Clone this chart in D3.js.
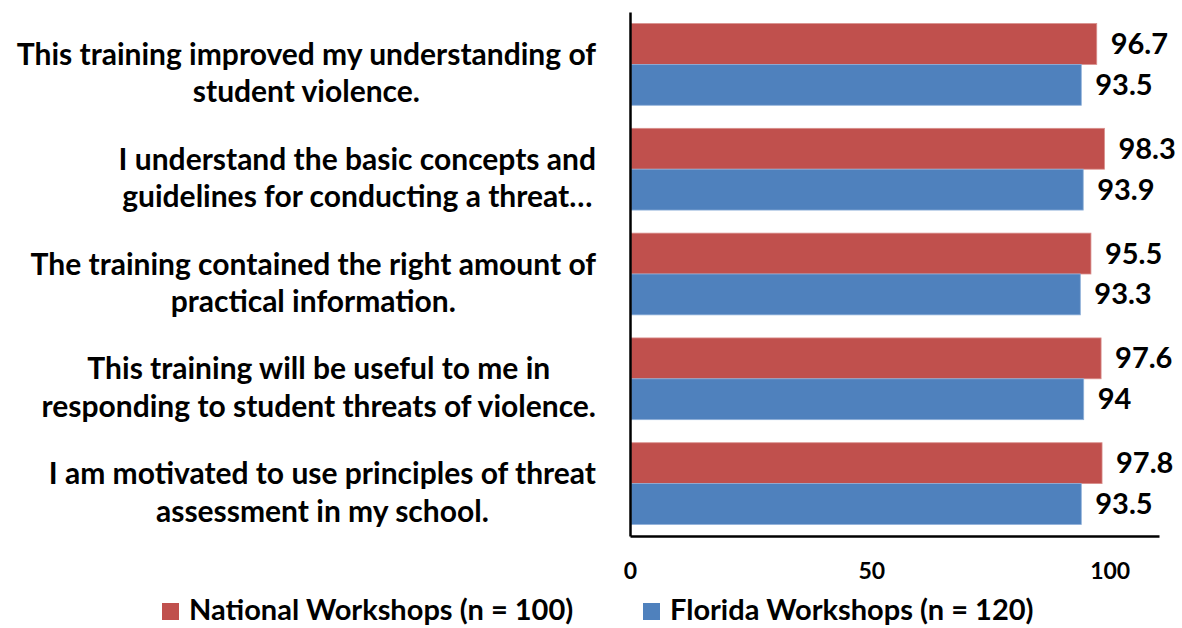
<!DOCTYPE html>
<html>
<head>
<meta charset="utf-8">
<script src="https://cdn.jsdelivr.net/npm/d3@7"></script>
<style>
  html, body { margin: 0; padding: 0; background: #ffffff; }
  svg { display: block; }
  text { font-family: Lato, "Open Sans", sans-serif; font-weight: 700; fill: #000; }
</style>
</head>
<body>
<svg id="chart" width="1182" height="628"></svg>
<script>
// ---- data ----
const categories = [
  "This training improved my understanding of student violence.",
  "I understand the basic concepts and guidelines for conducting a threat…",
  "The training contained the right amount of practical information.",
  "This training will be useful to me in responding to student threats of violence.",
  "I am motivated to use principles of threat assessment in my school."
];
const categoryLines = [
  ["This training improved my understanding of", "student violence."],
  ["I understand the basic concepts and", "guidelines for conducting a threat…"],
  ["The training contained the right amount of", "practical information."],
  ["This training will be useful to me in", "responding to student threats of violence."],
  ["I am motivated to use principles of threat", "assessment in my school."]
];
const seriesNames = ["National Workshops (n = 100)", "Florida Workshops (n = 120)"];
const nationalValues = [96.7, 98.3, 95.5, 97.6, 97.8];
const floridaValues  = [93.5, 93.9, 93.3, 94, 93.5];
const xTicks = [0, 50, 100];
const colors = ["#C0504D", "#4F81BD"];

// ---- layout ----
const svg = d3.select("#chart");
const plot = { left: 630, right: 1159, top: 12, bottom: 536 };

const x = d3.scaleLinear().domain([0, 109.6]).range([plot.left, plot.right]);
const y0 = d3.scaleBand().domain(categories).range([plot.top, plot.bottom]).paddingInner(0.22).paddingOuter(0.11);
const y1 = d3.scaleBand().domain(seriesNames).range([0, y0.bandwidth()]);

const seriesVals = [nationalValues, floridaValues];
const rows = [];
categories.forEach((c, i) => {
  seriesNames.forEach((s, j) => rows.push({ cat: c, ser: s, j, v: seriesVals[j][i] }));
});

// bars
svg.append("g").selectAll("rect").data(rows).join("rect")
  .attr("x", x(0) + 1)
  .attr("y", d => y0(d.cat) + y1(d.ser))
  .attr("width", d => x(d.v) - x(0) - 1)
  .attr("height", y1.bandwidth())
  .attr("fill", d => colors[d.j])
  .attr("stroke", d => d.j === 0 ? "#d98f8d" : "#8fb0d9")
  .attr("stroke-width", 0.8);

// value labels
svg.append("g").selectAll("text").data(rows).join("text")
  .attr("x", d => x(d.v) + 14)
  .attr("y", d => y0(d.cat) + y1(d.ser) + y1.bandwidth() / 2 + 10)
  .attr("font-size", 29)
  .text(d => d.v);

// axes
const xAxis = d3.axisBottom(x).tickValues(xTicks).tickSize(0).tickPadding(0);
const gx = svg.append("g").attr("transform", `translate(0,${plot.bottom})`).call(xAxis);
gx.select(".domain").attr("stroke", "#000").attr("stroke-width", 2.5);
gx.selectAll(".tick text").attr("font-size", 23).attr("font-family", "Lato, sans-serif")
  .attr("font-weight", 700).attr("dy", 0).attr("y", 43).attr("fill", "#000");
gx.selectAll(".tick").filter(d => d === 100).select("text").attr("dx", -3);

const yAxis = d3.axisLeft(y0).tickSize(0).tickFormat("");
const gy = svg.append("g").attr("transform", `translate(${plot.left},0)`).call(yAxis);
gy.select(".domain").attr("stroke", "#000").attr("stroke-width", 2.5);

// category labels (two-line, centred block right-aligned near axis)
const labelRight = 596;
const lg = svg.append("g");
categories.forEach((c, i) => {
  const lines = categoryLines[i];
  const g = lg.append("g");
  const texts = lines.map((ln, k) => g.append("text")
    .attr("font-size", 30)
    .attr("text-anchor", "middle")
    .attr("y", y0(c) + y0.bandwidth() / 2 + 0.5 + k * 37.5)
    .text(ln));
  const maxW = d3.max(texts, t => t.node().getComputedTextLength());
  texts.forEach(t => t.attr("x", labelRight - maxW / 2));
});

// legend
const legendX = [162, 643];
const lgd = svg.append("g");
seriesNames.forEach((s, j) => {
  lgd.append("rect").attr("x", legendX[j]).attr("y", 603).attr("width", 17).attr("height", 17).attr("fill", colors[j]);
  lgd.append("text").attr("x", legendX[j] + 27).attr("y", 620).attr("font-size", 29).text(s);
});
</script>
</body>
</html>
